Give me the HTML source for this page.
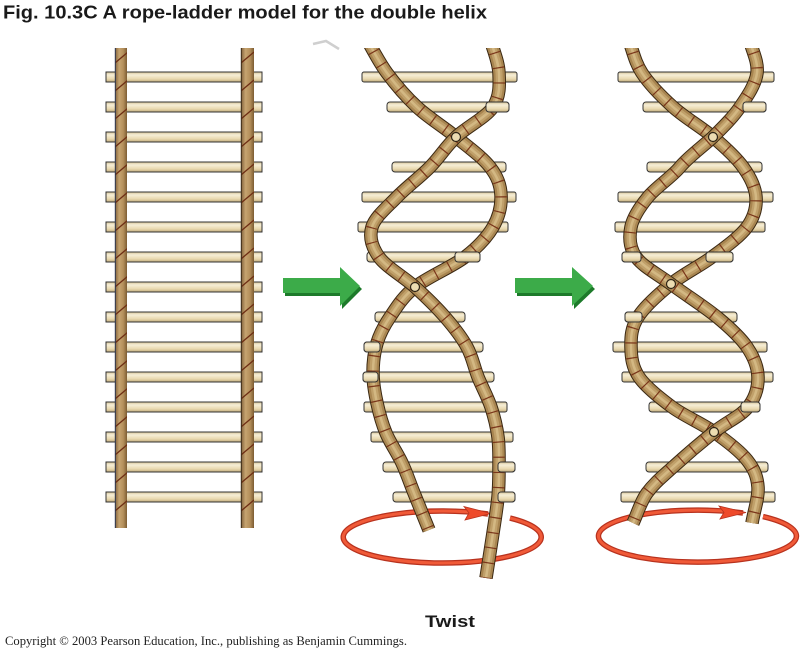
<!DOCTYPE html>
<html>
<head>
<meta charset="utf-8">
<style>
html,body{margin:0;padding:0;background:#fff;}
svg{display:block;}
.o{fill:none;stroke:#3a2812;stroke-width:13.5;}
.b{fill:none;stroke:#a88550;stroke-width:11.5;}
.m{fill:none;stroke:#c0a06a;stroke-width:7;}
.h{fill:none;stroke:#d3b883;stroke-width:2.5;}
.s{fill:none;stroke:#7a361a;stroke-width:11.5;stroke-dasharray:1.2 14;}
.rung{fill:url(#rg);stroke:#333;stroke-width:1;}
</style>
</head>
<body>
<svg width="800" height="652" viewBox="0 0 800 652" xmlns="http://www.w3.org/2000/svg">
<defs>
  <linearGradient id="rg" x1="0" y1="0" x2="0" y2="1">
    <stop offset="0" stop-color="#d6c497"/>
    <stop offset="0.3" stop-color="#f6eed6"/>
    <stop offset="0.7" stop-color="#e8d8ae"/>
    <stop offset="1" stop-color="#bfa979"/>
  </linearGradient>
  <linearGradient id="railg" x1="0" y1="0" x2="1" y2="0">
    <stop offset="0" stop-color="#80603a"/>
    <stop offset="0.35" stop-color="#c6a470"/>
    <stop offset="0.7" stop-color="#b38e5a"/>
    <stop offset="1" stop-color="#7c5c32"/>
  </linearGradient>
  <pattern id="stL" x="115" y="50" width="13" height="28" patternUnits="userSpaceOnUse">
    <line x1="0" y1="13" x2="13" y2="2" stroke="#6e2e14" stroke-width="1.3"/>
  </pattern>
  <pattern id="stR" x="241" y="50" width="13" height="28" patternUnits="userSpaceOnUse">
    <line x1="0" y1="13" x2="13" y2="2" stroke="#6e2e14" stroke-width="1.3"/>
  </pattern>
  <clipPath id="ct"><rect x="0" y="48" width="800" height="610"/></clipPath>
  <path id="mA" d="M366,38 C373,49.7 378.5,61.5 387,73 C395.5,84.5 405.5,96.3 417,107 C428.5,117.7 443.8,127 456,137 C468.2,147 482.5,157.3 490,167 C497.5,176.7 500.5,185 501,195 C501.5,205 499,216.7 493,227 C487,237.3 478,247 465,257 C452,267 427.5,277 415,287 C402.5,297 396.3,307.7 390,317 C383.7,326.3 379.8,333.7 377,343 C374.2,352.3 373,363 373,373 C373,383 374.8,393 377,403 C379.2,413 381.8,423 386,433 C390.2,443 397.3,453 402,463 C406.7,473 409.5,481.8 414,493 C418.5,504.2 424,517.7 429,530"/>
  <path id="mB" d="M490,38 C493,49.7 498.5,61.5 499,73 C499.5,84.5 500.2,96.3 493,107 C485.8,117.7 466.5,127 456,137 C445.5,147 439.8,157 430,167 C420.2,177 406.7,187 397,197 C387.3,207 375,217 372,227 C369,237 371.8,247 379,257 C386.2,267 404,277 415,287 C426,297 436.3,307 445,317 C453.7,327 461.5,337 467,347 C472.5,357 474,367 478,377 C482,387 487.7,397 491,407 C494.3,417 496.7,427 498,437 C499.3,447 499,457 499,467 C499,477 499,486 498,497 C497,508 495,519.5 493,533 C491,546.5 488.3,563 486,578"/>
  <path id="rA" d="M628,38 C632.7,49.7 634.5,61.5 642,73 C649.5,84.5 661.2,96.3 673,107 C684.8,117.7 701.3,127 713,137 C724.7,147 735.8,157 743,167 C750.2,177 755.3,187 756,197 C756.7,207 754.3,217 747,227 C739.7,237 724.7,247.5 712,257 C699.3,266.5 683.3,274 671,284 C658.7,294 644.7,306.5 638,317 C631.3,327.5 630.8,337 631,347 C631.2,357 632.2,367 639,377 C645.8,387 659.5,397.8 672,407 C684.5,416.2 701.5,423.2 714,432 C726.5,440.8 739.7,450.8 747,460 C754.3,469.2 757.2,476.5 758,487 C758.8,497.5 754,511 752,523"/>
  <path id="rB" d="M749,38 C751.7,49.7 758.5,61.5 757,73 C755.5,84.5 747.3,96.3 740,107 C732.7,117.7 723,127 713,137 C702.2,147 688.2,157 680,167 C671.8,177 656.2,187 648,197 C639.8,207 633,217 631,227 C629,237 629.3,247.5 636,257 C642.7,266.5 657.5,274 671,284 C684.5,294 704.3,306.5 717,317 C729.7,327.5 740.2,337 747,347 C753.8,357 757.8,367 758,377 C758.2,387 755.3,397.8 748,407 C740.7,416.2 726.5,422 714,432 C701.5,442 684.2,456.8 673,467 C661.8,477.2 653.7,483.7 647,493 C640.3,502.3 637.7,513 633,523"/>
</defs>

<rect width="800" height="652" fill="#fff"/>

<!-- Title -->
<text x="3" y="18.5" font-family="'Liberation Sans', Arial, sans-serif" font-weight="bold" font-size="18" fill="#1a1a1a" textLength="484" lengthAdjust="spacingAndGlyphs">Fig. 10.3C  A rope-ladder model for the double helix</text>

<!-- smudge -->
<path d="M313,44 L326,41 L339,49" stroke="#cfcfcf" stroke-width="2.5" fill="none"/>

<!-- ===== Ladder ===== -->
<g>
  <rect class="rung" x="106" y="72" width="156" height="10"/>
  <rect class="rung" x="106" y="102" width="156" height="10"/>
  <rect class="rung" x="106" y="132" width="156" height="10"/>
  <rect class="rung" x="106" y="162" width="156" height="10"/>
  <rect class="rung" x="106" y="192" width="156" height="10"/>
  <rect class="rung" x="106" y="222" width="156" height="10"/>
  <rect class="rung" x="106" y="252" width="156" height="10"/>
  <rect class="rung" x="106" y="282" width="156" height="10"/>
  <rect class="rung" x="106" y="312" width="156" height="10"/>
  <rect class="rung" x="106" y="342" width="156" height="10"/>
  <rect class="rung" x="106" y="372" width="156" height="10"/>
  <rect class="rung" x="106" y="402" width="156" height="10"/>
  <rect class="rung" x="106" y="432" width="156" height="10"/>
  <rect class="rung" x="106" y="462" width="156" height="10"/>
  <rect class="rung" x="106" y="492" width="156" height="10"/>
</g>
<rect x="115" y="48" width="12" height="480" fill="url(#railg)"/>
<rect x="115" y="48" width="12" height="480" fill="url(#stL)"/>
<line x1="115.3" y1="48" x2="115.3" y2="528" stroke="#2b3550" stroke-width="1"/>
<rect x="241" y="48" width="13" height="480" fill="url(#railg)"/>
<rect x="241" y="48" width="13" height="480" fill="url(#stR)"/>
<line x1="241.3" y1="48" x2="241.3" y2="528" stroke="#3a2a18" stroke-width="1"/>

<!-- ===== Green arrows ===== -->
<polygon points="285,281 342,281 342,270 362,289 342,309 342,296 285,296" fill="#1d7a2a"/>
<polygon points="283,278 340,278 340,267 360,286 340,306 340,293 283,293" fill="#3cab49"/>
<polygon points="517,281 574,281 574,270 595,289 574,309 574,296 517,296" fill="#1d7a2a"/>
<polygon points="515,278 572,278 572,267 593,286 572,306 572,293 515,293" fill="#3cab49"/>

<!-- ===== Middle helix rungs ===== -->
<g>
  <rect class="rung" x="362" y="72" width="155" height="10" rx="2"/>
  <rect class="rung" x="387" y="102" width="122" height="10" rx="3"/>
  <rect class="rung" x="392" y="162" width="114" height="10" rx="3"/>
  <rect class="rung" x="362" y="192" width="154" height="10" rx="2"/>
  <rect class="rung" x="358" y="222" width="150" height="10" rx="2"/>
  <rect class="rung" x="367" y="252" width="113" height="10" rx="3"/>
  <rect class="rung" x="375" y="312" width="90" height="10" rx="3"/>
  <rect class="rung" x="364" y="342" width="119" height="10" rx="3"/>
  <rect class="rung" x="363" y="372" width="131" height="10" rx="3"/>
  <rect class="rung" x="364" y="402" width="143" height="10" rx="2"/>
  <rect class="rung" x="371" y="432" width="142" height="10" rx="2"/>
  <rect class="rung" x="383" y="462" width="132" height="10" rx="3"/>
  <rect class="rung" x="393" y="492" width="122" height="10" rx="3"/>
</g>

<!-- ===== Right helix rungs ===== -->
<g>
  <rect class="rung" x="618" y="72" width="156" height="10" rx="2"/>
  <rect class="rung" x="643" y="102" width="123" height="10" rx="3"/>
  <rect class="rung" x="647" y="162" width="115" height="10" rx="3"/>
  <rect class="rung" x="618" y="192" width="155" height="10" rx="2"/>
  <rect class="rung" x="615" y="222" width="150" height="10" rx="2"/>
  <rect class="rung" x="622" y="252" width="111" height="10" rx="3"/>
  <rect class="rung" x="625" y="312" width="112" height="10" rx="3"/>
  <rect class="rung" x="613" y="342" width="154" height="10" rx="2"/>
  <rect class="rung" x="622" y="372" width="151" height="10" rx="2"/>
  <rect class="rung" x="649" y="402" width="111" height="10" rx="3"/>
  <rect class="rung" x="646" y="462" width="122" height="10" rx="3"/>
  <rect class="rung" x="621" y="492" width="154" height="10" rx="2"/>
</g>

<!-- ===== Red rotation ellipses ===== -->
<path d="M510,518.1 A99,26 0 1 1 488,514" fill="none" stroke="#b8321e" stroke-width="5.5"/>
<path d="M510,518.1 A99,26 0 1 1 488,514" fill="none" stroke="#f05a38" stroke-width="3"/>
<polygon points="491,513.5 464,506.5 469,513 465,520" fill="#ee4a2a" stroke="#b8321e" stroke-width="0.8"/>

<path d="M763,516.6 A99,26 0 1 1 743,513" fill="none" stroke="#b8321e" stroke-width="5.5"/>
<path d="M763,516.6 A99,26 0 1 1 743,513" fill="none" stroke="#f05a38" stroke-width="3"/>
<polygon points="746,512.5 719,506 724,512.5 720,519" fill="#ee4a2a" stroke="#b8321e" stroke-width="0.8"/>

<!-- ===== Ropes ===== -->
<g clip-path="url(#ct)">
  <use href="#mA" class="o"/><use href="#mA" class="b"/><use href="#mA" class="m"/><use href="#mA" class="h"/><use href="#mA" class="s"/>
  <use href="#mB" class="o"/><use href="#mB" class="b"/><use href="#mB" class="m"/><use href="#mB" class="h"/><use href="#mB" class="s"/>
  <use href="#rA" class="o"/><use href="#rA" class="b"/><use href="#rA" class="m"/><use href="#rA" class="h"/><use href="#rA" class="s"/>
  <use href="#rB" class="o"/><use href="#rB" class="b"/><use href="#rB" class="m"/><use href="#rB" class="h"/><use href="#rB" class="s"/>
</g>

<!-- rung ends in front of ropes -->
<g>
  <rect class="rung" x="486" y="102" width="23" height="10" rx="3"/>
  <rect class="rung" x="455" y="252" width="25" height="10" rx="3"/>
  <rect class="rung" x="364" y="342" width="16" height="10" rx="3"/>
  <rect class="rung" x="363" y="372" width="15" height="10" rx="3"/>
  <rect class="rung" x="498" y="462" width="17" height="10" rx="3"/>
  <rect class="rung" x="498" y="492" width="17" height="10" rx="3"/>
  <rect class="rung" x="743" y="102" width="23" height="10" rx="3"/>
  <rect class="rung" x="622" y="252" width="19" height="10" rx="3"/>
  <rect class="rung" x="706" y="252" width="27" height="10" rx="3"/>
  <rect class="rung" x="625" y="312" width="17" height="10" rx="3"/>
  <rect class="rung" x="741" y="402" width="19" height="10" rx="3"/>
</g>

<!-- end-on rungs at crossings -->
<g fill="#ecdcb2" stroke="#2e2416" stroke-width="1.2">
  <circle cx="456" cy="137" r="4.5"/>
  <circle cx="415" cy="287" r="4.5"/>
  <circle cx="713" cy="137" r="4.5"/>
  <circle cx="671" cy="284" r="4.5"/>
  <circle cx="714" cy="432" r="4.5"/>
</g>

<!-- Labels -->
<text x="425" y="627" font-family="'Liberation Sans', Arial, sans-serif" font-weight="bold" font-size="17" fill="#1a1a1a" textLength="50" lengthAdjust="spacingAndGlyphs">Twist</text>
<text x="5" y="645" font-family="'Liberation Serif', 'Times New Roman', serif" font-size="13" fill="#222" textLength="402" lengthAdjust="spacingAndGlyphs">Copyright © 2003 Pearson Education, Inc., publishing as Benjamin Cummings.</text>
</svg>
</body>
</html>
